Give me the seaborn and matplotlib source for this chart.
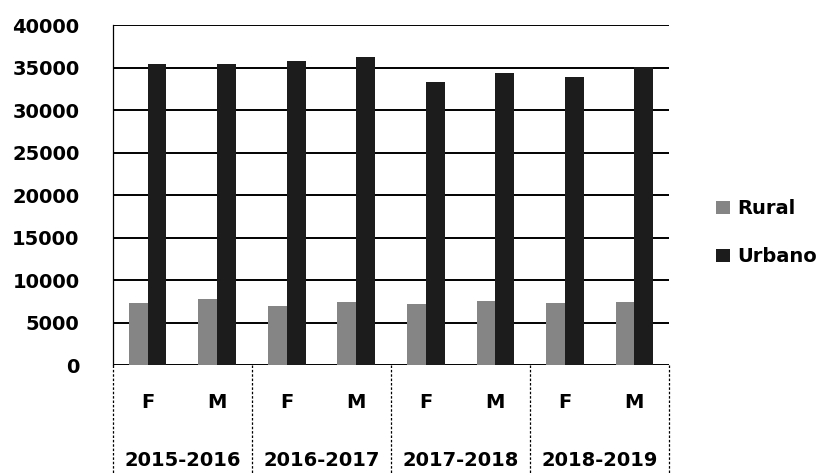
import pandas as pd
import numpy as np
import matplotlib
matplotlib.use("Agg")
import matplotlib.pyplot as plt
import seaborn as sns
from matplotlib.transforms import blended_transform_factory

years = ['2015-2016', '2016-2017', '2017-2018', '2018-2019']
sexes = ['F', 'M']
rural = [7300, 7800, 7000, 7400, 7200, 7600, 7300, 7400]
urbano = [35400, 35400, 35750, 36250, 33300, 34400, 33900, 35100]

cats = [y + ' ' + s for y in years for s in sexes]
df = pd.DataFrame({
    'cat': cats * 2,
    'valor': rural + urbano,
    'zona': ['Rural'] * len(cats) + ['Urbano'] * len(cats),
})

sns.set_style('white')
plt.rcParams['font.family'] = ['DejaVu Sans']
plt.rcParams['text.color'] = 'black'
plt.rcParams['xtick.color'] = 'black'
plt.rcParams['ytick.color'] = 'black'

fig = plt.figure(figsize=(8.27, 4.73), dpi=100)
ax = fig.add_axes([0.1366, 0.228, 0.809 - 0.1366, 0.947 - 0.228])

sns.barplot(data=df, x='cat', y='valor', hue='zona', order=cats,
            hue_order=['Rural', 'Urbano'],
            palette={'Rural': '#858585', 'Urbano': '#1c1c1c'},
            width=0.54, gap=0, linewidth=0, ax=ax, zorder=3)

ax.set_ylim(0, 40000)
ax.set_xlim(-0.5, len(cats) - 0.5)
ax.set_yticks(np.arange(0, 40001, 5000))
ax.set_yticklabels([str(v) for v in range(0, 40001, 5000)],
                   fontsize=14, fontweight='bold')
ax.tick_params(axis='y', length=0, pad=24)
ax.grid(axis='y', color='black', linewidth=1.4, zorder=0)
ax.set_axisbelow(True)
for s in ['top', 'right', 'bottom']:
    ax.spines[s].set_visible(False)
ax.spines['left'].set_color('black')
ax.spines['left'].set_linewidth(0.9)

ax.set_xticks(range(len(cats)))
ax.set_xticklabels([s for y in years for s in sexes], fontsize=14,
                   fontweight='bold')
ax.tick_params(axis='x', length=0, pad=20)
ax.set_xlabel('')
ax.set_ylabel('')

# etiquetas de año y separadores punteados
trans = blended_transform_factory(ax.transData, ax.transAxes)
for i, y in enumerate(years):
    ax.text(2 * i + 0.5, -0.28, y, transform=trans, ha='center', va='center',
            fontsize=14, fontweight='bold')
for xs in np.arange(-0.5, len(cats), 2):
    ax.plot([xs, xs], [0, -0.33], transform=trans, color='black',
            linestyle=(0, (2, 1.5)), linewidth=0.9, clip_on=False)

handles, labels = ax.get_legend_handles_labels()
ax.legend(handles, labels, loc='center left', bbox_to_anchor=(0.845, 0.508),
          bbox_transform=fig.transFigure, frameon=False,
          prop={'size': 14, 'weight': 'bold'}, handlelength=0.7,
          handleheight=0.7, handletextpad=0.4, labelspacing=1.5)

plt.savefig('out.png', dpi=100)
